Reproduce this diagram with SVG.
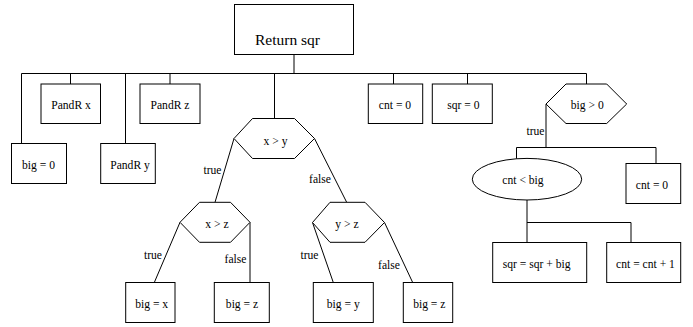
<svg xmlns="http://www.w3.org/2000/svg" width="693" height="327" viewBox="0 0 693 327">
<style>
.s{fill:#fff;stroke:#000;stroke-width:1}
.c{fill:none;stroke:#000;stroke-width:1}
text{font-family:"Liberation Serif","Times New Roman",serif;font-size:11.6px;fill:#000;text-anchor:middle}
.l{text-anchor:end}
.t{text-anchor:start;font-size:15.5px}
</style>
<rect width="693" height="327" fill="#fff"/>
<g id="connectors">
<path class="c" d="M294,54.5V73.5M21.5,73.5H586.5M21.5,73.5V143.5M70.5,73.5V84M125.5,73.5V143.5M170,73.5V84M274.5,73.5V118.5M393.5,73.5V84M467.5,73.5V84M586.5,73.5V84"/>
<path class="c" d="M546,104V147.5M516.5,147.5H656M516.5,147.5V158.8M656,147.5V163.5M527,200V242.5M527,222.5H631V242.5"/>
<path class="c" d="M234,138.5L215,202.3M314.5,138.5L346.7,202.3M180,222.3L154.3,282.5M250,222.3V282.5M312.5,222.5L333.3,282.5M384.5,222.5L412.7,282.5"/>
<text class="l" x="221.5" y="173.5">true</text>
<text x="320" y="183">false</text>
<text class="l" x="162" y="258.5">true</text>
<text x="235.5" y="263">false</text>
<text class="l" x="318.5" y="258.5">true</text>
<text x="389" y="269">false</text>
<text class="l" x="544.5" y="134.5">true</text>
</g>
<g id="n_return"><rect class="s" x="234.5" y="4.5" width="119" height="50"/><text class="t" x="255" y="45">Return sqr</text></g>
<g id="n_big0"><rect class="s" x="11.5" y="143.5" width="55" height="40"/><text x="38.5" y="168.5">big = 0</text></g>
<g id="n_pandrx"><rect class="s" x="41" y="84" width="59.5" height="39.5"/><text x="71" y="109">PandR x</text></g>
<g id="n_pandry"><rect class="s" x="100.7" y="143.5" width="54.6" height="40"/><text x="130" y="168.5">PandR y</text></g>
<g id="n_pandrz"><rect class="s" x="140" y="84" width="60" height="39.5"/><text x="170" y="109">PandR z</text></g>
<g id="n_xy"><polygon class="s" points="234,138.5 252.5,118.5 294.5,118.5 314.5,138.5 294.5,158.5 252.5,158.5"/><text x="275.5" y="144.5">x &gt; y</text></g>
<g id="n_cnt0"><rect class="s" x="368.3" y="84" width="54.4" height="39.5"/><text x="395" y="109">cnt = 0</text></g>
<g id="n_sqr0"><rect class="s" x="432.3" y="84" width="60" height="39.5"/><text x="463.3" y="109">sqr = 0</text></g>
<g id="n_big_gt0"><polygon class="s" points="546,104 566,84 606.7,84 626.7,104 606.7,123.5 566,123.5"/><text x="587.3" y="108.5">big &gt; 0</text></g>
<g id="n_cntbig"><ellipse class="s" cx="527" cy="179.2" rx="54.7" ry="20.8"/><text x="523" y="184">cnt &lt; big</text></g>
<g id="n_cnt0b"><rect class="s" x="626" y="163.5" width="54.7" height="40"/><text x="652" y="188.5">cnt = 0</text></g>
<g id="n_sqrplus"><rect class="s" x="492.7" y="242.5" width="94" height="40"/><text x="536.7" y="267.5">sqr = sqr + big</text></g>
<g id="n_cntplus"><rect class="s" x="606.7" y="242.5" width="74" height="40"/><text x="645.5" y="267.5">cnt = cnt + 1</text></g>
<g id="n_xz"><polygon class="s" points="180,222.3 199.5,202.3 230.5,202.3 250,222.3 230.5,242.3 199.5,242.3"/><text x="217" y="228">x &gt; z</text></g>
<g id="n_yz"><polygon class="s" points="312.5,222.5 330,202.3 365,202.3 384.5,222.5 365,242.3 330,242.3"/><text x="347" y="228">y &gt; z</text></g>
<g id="n_bigx"><rect class="s" x="125.7" y="282.5" width="49.3" height="40"/><text x="151.7" y="307.5">big = x</text></g>
<g id="n_bigz1"><rect class="s" x="214.3" y="282.5" width="55" height="40"/><text x="242" y="307.5">big = z</text></g>
<g id="n_bigy"><rect class="s" x="313.3" y="282.5" width="60" height="40"/><text x="343.3" y="307.5">big = y</text></g>
<g id="n_bigz2"><rect class="s" x="403.3" y="282.5" width="49.4" height="40"/><text x="429.3" y="307.5">big = z</text></g>
</svg>
